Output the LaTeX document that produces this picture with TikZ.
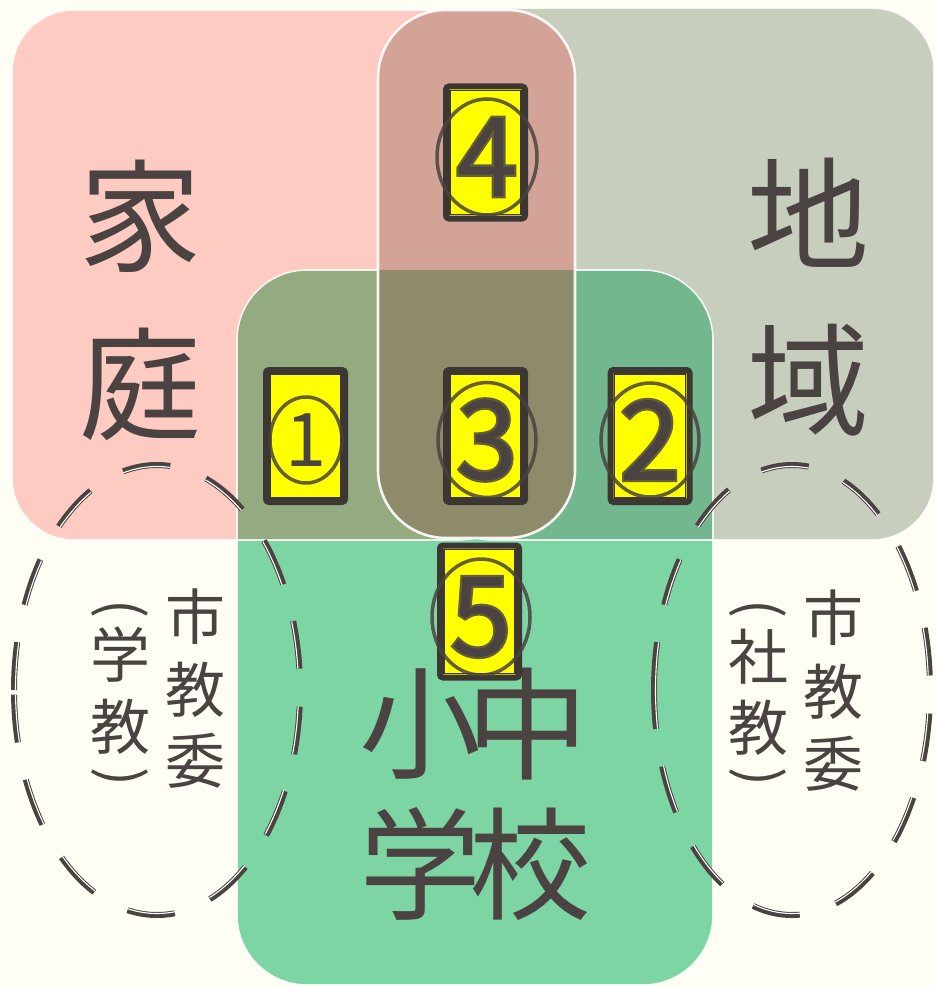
\documentclass[tikz,border=0pt]{standalone}
\usepackage{fontspec}
\setmainfont{Noto Sans CJK JP}
\newfontfamily\digitfont[FakeBold=4]{Noto Sans CJK JP}
\usetikzlibrary{shapes.geometric}
\definecolor{bg}{HTML}{FEFEF4}
\definecolor{pinkc}{HTML}{FDCBC2}
\definecolor{greyc}{HTML}{C8CEBE}
\definecolor{greenc}{HTML}{7ED5A4}
\definecolor{pinkgreen}{HTML}{94AA80}
\definecolor{greygreen}{HTML}{73B78E}
\definecolor{pillc}{HTML}{D4A398}
\definecolor{pillgreen}{HTML}{8E8B6B}
\definecolor{ink}{HTML}{4A4341}
\definecolor{frame}{HTML}{3C3733}
\definecolor{badgey}{HTML}{FFFF00}
\begin{document}
\begin{tikzpicture}[x=1pt,y=-1pt,
  outline/.style={draw=white, line width=1.6pt, opacity=0.85},
  bigchar/.style={text=ink, inner sep=0pt, font=\fontsize{122}{122}\selectfont},
  smallchar/.style={text=ink, inner sep=0pt, font=\fontsize{60}{60}\selectfont},
  paren/.style={text=ink, inner sep=0pt, rotate=-90, font=\fontsize{56}{56}\selectfont},
  dashdark/.style={draw=ink, line width=6pt, dash pattern=on 48pt off 38pt},
  dashlight/.style={draw=white, line width=1.1pt, dash pattern=on 47.6pt off 37.7pt},
  badge/.style={rectangle, fill=badgey, draw=frame, line width=6pt, rounded corners=3pt, minimum width=79pt, minimum height=132pt, inner sep=0pt},
  badgein/.style={rectangle, draw=frame, line width=1.1pt, minimum width=71pt, minimum height=124pt, inner sep=0pt},
  ring/.style={ellipse, draw=ink, draw opacity=0.85, line width=3.5pt, inner sep=0pt, text=ink, font=\digitfont\fontsize{110}{110}\selectfont},
  ringthin/.style={ellipse, draw=ink, draw opacity=0.85, line width=3.5pt, inner sep=0pt, text=ink, font=\fontsize{74}{74}\selectfont}]
\useasboundingbox (0,0) rectangle (936,987);
\fill[bg] (0,0) rectangle (936,987);
% regions
\fill[pinkc, rounded corners=62pt] (12,10) rectangle (520,540);
\fill[greyc, rounded corners=62pt] (430,8) rectangle (934,540);
\fill[greenc, rounded corners=70pt] (237,270) rectangle (713,985);
\begin{scope}
  \clip[rounded corners=62pt] (12,10) rectangle (520,540);
  \fill[pinkgreen, rounded corners=70pt] (237,270) rectangle (713,985);
\end{scope}
\begin{scope}
  \clip[rounded corners=62pt] (430,8) rectangle (934,540);
  \fill[greygreen, rounded corners=70pt] (237,270) rectangle (713,985);
\end{scope}
\draw[outline, rounded corners=70pt] (237,270) rectangle (713,985);
\draw[outline, rounded corners=62pt] (12,10) rectangle (520,540);
\draw[outline, rounded corners=62pt] (430,8) rectangle (934,540);
% pill
\fill[pillc, rounded corners=68pt] (378,10) rectangle (575,538);
\begin{scope}
  \clip[rounded corners=68pt] (378,10) rectangle (575,538);
  \fill[pillgreen, rounded corners=70pt] (237,270) rectangle (713,985);
\end{scope}
\draw[draw=white, line width=2.6pt, opacity=0.9, rounded corners=68pt] (378,10) rectangle (575,538);
% dashed ellipses
\draw[dashdark] (14,690) arc[start angle=180, end angle=540, x radius=143, y radius=225];
\draw[dashlight] (15.5,690) arc[start angle=180, end angle=540, x radius=141.5, y radius=223.5];
\draw[dashdark] (654,690) arc[start angle=180, end angle=540, x radius=138, y radius=225];
\draw[dashlight] (655.5,690) arc[start angle=180, end angle=540, x radius=136.5, y radius=223.5];
% big texts
\node[bigchar] (ka) at (140,216) {家};
\node[bigchar] (tei) at (140,384) {庭};
\node[bigchar] (chi) at (808,213) {地};
\node[bigchar] (iki) at (808,380) {域};
\node[bigchar] (sho) at (420,724) {小};
\node[bigchar] (chu) at (527,724) {中};
\node[bigchar] (gaku) at (420,864) {学};
\node[bigchar] (kou) at (530,864) {校};
% small texts left
\node[smallchar] (l1) at (195,617) {市};
\node[smallchar] (l2) at (195,690) {教};
\node[smallchar] (l3) at (195,761) {委};
\node[paren] (l4) at (120,609) {(};
\node[smallchar] (l5) at (120,655) {学};
\node[smallchar] (l6) at (120,727) {教};
\node[paren] (l7) at (120,777) {)};
% small texts right
\node[smallchar] (r1) at (833,618) {市};
\node[smallchar] (r2) at (833,692) {教};
\node[smallchar] (r3) at (833,764) {委};
\node[paren] (r4) at (758,609) {(};
\node[smallchar] (r5) at (758,657) {社};
\node[smallchar] (r6) at (758,728) {教};
\node[paren] (r7) at (758,777) {)};
% badges
\node[badge] (b1) at (305.5,436) {};
\node[badgein] (b1i) at (305.5,436) {};
\node[ringthin, minimum width=72pt, minimum height=86pt] (c1) at (306,440) {1};
\node[badge] (b3) at (485.5,436) {};
\node[badgein] (b3i) at (485.5,436) {};
\node[ring, minimum width=98pt, minimum height=114pt] (c3) at (487,440) {3};
\node[badge] (b2) at (650,436) {};
\node[badgein] (b2i) at (650,436) {};
\node[ring, minimum width=98pt, minimum height=114pt] (c2) at (650,440) {2};
\node[badge] (b4) at (485.5,152.5) {};
\node[badgein] (b4i) at (485.5,152.5) {};
\node[ring, minimum width=100pt, minimum height=116pt] (c4) at (487,157) {4};
\node[badge] (b5) at (479.5,611.5) {};
\node[badgein] (b5i) at (479.5,611.5) {};
\node[ring, minimum width=98pt, minimum height=116pt] (c5) at (481,617) {5};
\end{tikzpicture}
\end{document}
